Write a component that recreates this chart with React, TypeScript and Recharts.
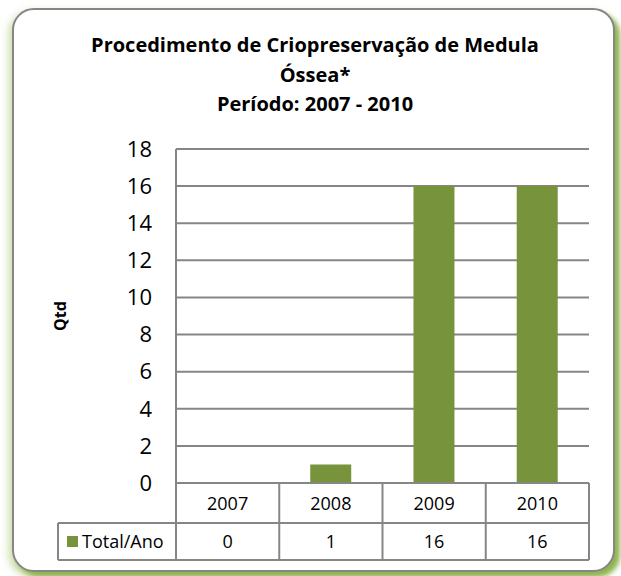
import React from "react";
import { Bar, BarChart, CartesianGrid, XAxis, YAxis } from "recharts";

const years = ["2007", "2008", "2009", "2010"];
const totals = [0, 1, 16, 16];
const yTicks = [0, 2, 4, 6, 8, 10, 12, 14, 16, 18];
const titleLines = ["Procedimento de Criopreservação de Medula", "Óssea*", "Período: 2007 - 2010"];
const seriesName = "Total/Ano";
const axisTitle = "Qtd";

const W = 621;
const H = 576;
const MARGIN = { top: 149, right: 32, bottom: 0, left: 0 };
const Y_AXIS_W = 176;
const X_AXIS_H = 93;
const GREEN = "#77933C";
const LINE = "#868686";
const FONT = "'Open Sans', sans-serif";

const data = years.map((y, i) => ({ year: y, total: totals[i] }));
const cellW = (W - MARGIN.left - MARGIN.right - Y_AXIS_W) / years.length;

// draws one column of the data table under the plot
function TableTick(props: any) {
  const { x, y, payload, index } = props;
  const left = x - cellW / 2;
  const right = x + cellW / 2;
  const tableRight = x + cellW * (years.length - index) - cellW / 2;
  return (
    <g>
      <text x={x} y={y + 20} textAnchor="middle" dominantBaseline="central" fontSize={18} fill="#000" fontFamily={FONT}>
        {payload.value}
      </text>
      <text x={x} y={y + 58} textAnchor="middle" dominantBaseline="central" fontSize={18} fill="#000" fontFamily={FONT}>
        {totals[index]}
      </text>
      <line x1={right} y1={y} x2={right} y2={y + 77} stroke={LINE} strokeWidth={2} />
      {index === 0 && (
        <g>
          <line x1={left} y1={y} x2={left} y2={y + 77} stroke={LINE} strokeWidth={2} />
          <line x1={58} y1={y + 40} x2={tableRight} y2={y + 40} stroke={LINE} strokeWidth={2} />
          <line x1={58} y1={y + 77} x2={tableRight} y2={y + 77} stroke={LINE} strokeWidth={2} />
          <line x1={58} y1={y + 40} x2={58} y2={y + 77} stroke={LINE} strokeWidth={2} />
          <rect x={67} y={y + 53} width={11} height={11} fill={GREEN} />
          <text x={82} y={y + 58} dominantBaseline="central" fontSize={18} fill="#000" fontFamily={FONT}>
            {seriesName}
          </text>
        </g>
      )}
    </g>
  );
}

export default function App() {
  return (
    <div style={{ position: "absolute", left: 0, top: 0, width: W, height: H, background: "#fff" }}>
      <div
        style={{
          position: "absolute",
          left: 12,
          top: 8,
          width: 599,
          height: 560,
          border: `2px solid ${LINE}`,
          borderRadius: 22,
          background: "#fff",
          boxShadow: "5px 5px 5px #8fb350, -3px 4px 8px rgba(155,187,89,0.55)",
        }}
      />
      <svg style={{ position: "absolute", left: 0, top: 0 }} width={W} height={130}>
        {titleLines.map((t, i) => (
          <text
            key={t}
            x={315}
            y={52 + i * 29.5}
            textAnchor="middle"
            fontSize={20}
            fontWeight={700}
            fontFamily={FONT}
            fill="#000"
          >
            {t}
          </text>
        ))}
      </svg>
      <div style={{ position: "absolute", left: 0, top: 0 }}>
        <BarChart width={W} height={H} data={data} margin={MARGIN} barCategoryGap="30%">
          <CartesianGrid horizontal vertical={false} stroke={LINE} strokeWidth={2} />
          <XAxis
            dataKey="year"
            height={X_AXIS_H}
            axisLine={{ stroke: LINE, strokeWidth: 2 }}
            tickLine={false}
            tickSize={0}
            tickMargin={0}
            interval={0}
            tick={<TableTick />}
          />
          <YAxis
            width={Y_AXIS_W}
            domain={[0, 18]}
            ticks={yTicks}
            interval={0}
            axisLine={{ stroke: LINE, strokeWidth: 2 }}
            tickLine={false}
            tickSize={0}
            tickMargin={24}
            tick={{ fontSize: 22, fill: "#000", fontFamily: FONT }}
            label={{
              content: () => (
                <text
                  x={60}
                  y={316}
                  transform="rotate(-90 60 316)"
                  textAnchor="middle"
                  dominantBaseline="central"
                  fontSize={16}
                  fontWeight={700}
                  fontFamily={FONT}
                  fill="#000"
                >
                  {axisTitle}
                </text>
              ),
            }}
          />
          <Bar dataKey="total" name={seriesName} fill={GREEN} isAnimationActive={false} />
        </BarChart>
      </div>
    </div>
  );
}
